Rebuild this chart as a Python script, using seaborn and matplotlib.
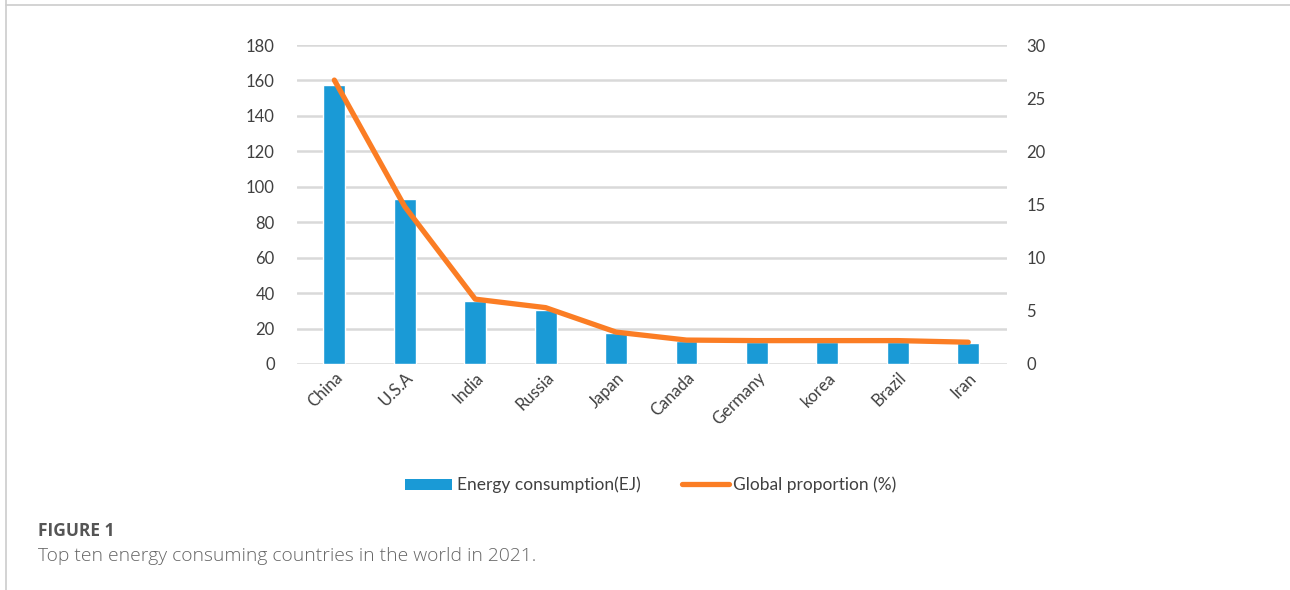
import numpy as np
import pandas as pd
import matplotlib
matplotlib.use("Agg")
import matplotlib.pyplot as plt
import seaborn as sns
from matplotlib.lines import Line2D
from matplotlib.patches import Patch

countries = ["China", "U.S.A", "India", "Russia", "Japan", "Canada", "Germany", "korea", "Brazil", "Iran"]
energy_ej = [157.5, 93, 35.5, 30.5, 17.5, 13.2, 12.6, 12.5, 12.4, 12.0]
global_pct = [26.7, 14.8, 6.1, 5.3, 3.0, 2.25, 2.2, 2.2, 2.2, 2.05]
left_ticks = [0, 20, 40, 60, 80, 100, 120, 140, 160, 180]
right_ticks = [0, 5, 10, 15, 20, 25, 30]

bar_color = "#1A9AD6"
line_color = "#FB7D24"
grid_color = "#D9D9D9"
text_color = "#404040"

sns.set_theme(style="white")
plt.rcParams["font.family"] = ["Lato", "DejaVu Sans"]

fig = plt.figure(figsize=(12.9, 5.9), dpi=100)
ax = fig.add_axes([297 / 1290, 1 - 364 / 590, (1007 - 297) / 1290, (364 - 45) / 590])

df = pd.DataFrame({"country": countries, "energy": energy_ej, "pct": global_pct})
sns.barplot(data=df, x="country", y="energy", color=bar_color, width=0.31,
            saturation=1, ax=ax, zorder=2)
ax.set_ylim(0, 180)
ax.set_yticks(left_ticks)
ax.set_xlim(-0.53, 9.55)
for y in left_ticks:
    ax.axhline(y, color=grid_color, lw=1.8, zorder=0)
ax.set_xlabel("")
ax.set_ylabel("")
for s in ax.spines.values():
    s.set_visible(False)
ax.tick_params(axis="y", length=0, pad=16, labelsize=12, labelcolor=text_color)
ax.tick_params(axis="x", length=0, pad=4, labelsize=12, labelcolor=text_color)
plt.setp(ax.get_xticklabels(), rotation=45, ha="right", rotation_mode="anchor")

ax2 = ax.twinx()
sns.lineplot(x=np.arange(len(countries)), y=global_pct, color=line_color, lw=3.8,
             ax=ax2, zorder=3, solid_capstyle="round", solid_joinstyle="round")
ax2.set_ylim(0, 30)
ax2.set_yticks(right_ticks)
for s in ax2.spines.values():
    s.set_visible(False)
ax2.tick_params(axis="y", length=0, pad=14, labelsize=12, labelcolor=text_color)
ax2.set_ylabel("")
ax2.set_xlim(-0.53, 9.55)

handles = [Patch(facecolor=bar_color, edgecolor="none"),
           Line2D([0], [0], color=line_color, lw=3.8, solid_capstyle="round")]
fig.legend(handles, ["Energy consumption(EJ)", "Global proportion (%)"],
           loc="center", bbox_to_anchor=(651 / 1290, 1 - 485 / 590), ncol=2,
           frameon=False, fontsize=12.5, handlelength=2.7, handleheight=0.6,
           columnspacing=2.4, handletextpad=0.25, labelcolor=text_color)

fig.text(38 / 1290, 1 - 531 / 590, "FIGURE 1", fontsize=12.5, color="#555555",
         fontweight="bold", va="center", family=["Open Sans", "DejaVu Sans"])
fig.text(38 / 1290, 1 - 556 / 590, "Top ten energy consuming countries in the world in 2021.",
         fontsize=13.9, color="#666666", fontweight="light", va="center",
         family=["Open Sans", "DejaVu Sans"])

fig.add_artist(Line2D([6 / 1290, 6 / 1290], [0, 1], transform=fig.transFigure,
                      color="#CCCCCC", lw=1.2))
fig.add_artist(Line2D([6 / 1290, 1], [1 - 5 / 590, 1 - 5 / 590], transform=fig.transFigure,
                      color="#CCCCCC", lw=1.2))

fig.savefig("out.png", dpi=100)
